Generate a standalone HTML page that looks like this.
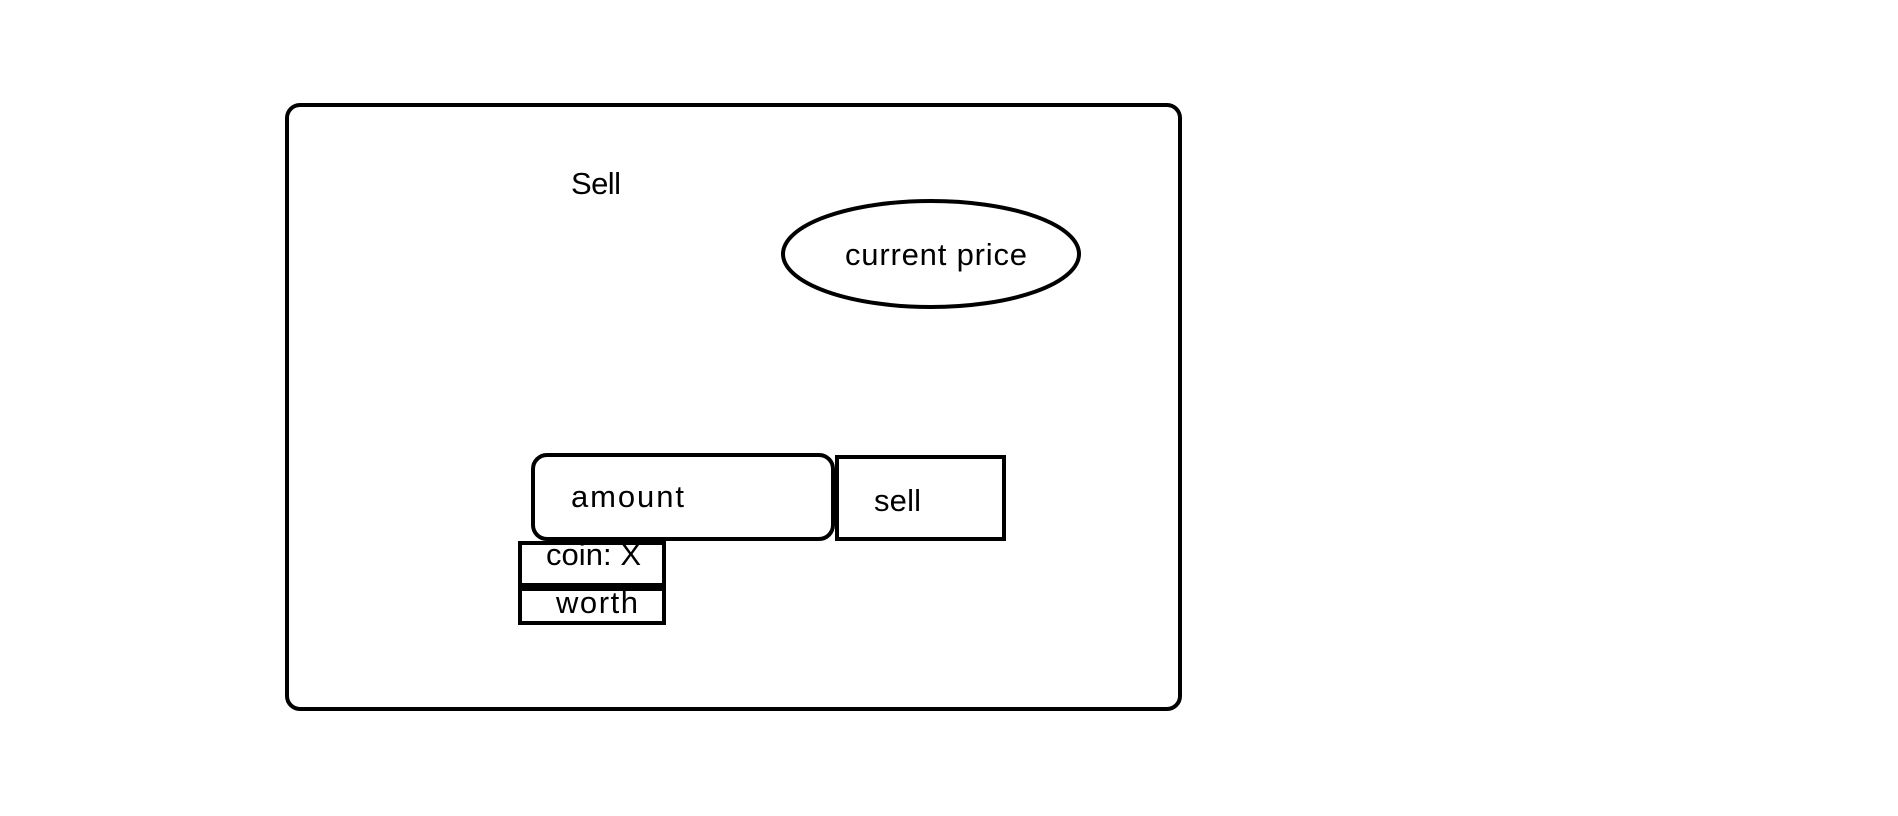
<!DOCTYPE html>
<html><head><meta charset="utf-8"><style>
html,body{margin:0;padding:0;background:#fff;width:1898px;height:816px;overflow:hidden}
svg{display:block}
text{font-family:"Liberation Sans",sans-serif;font-size:31px;fill:#000}
</style></head><body>
<svg width="1898" height="816" viewBox="0 0 1898 816">
<g fill="none" stroke="#000" stroke-width="4">
<rect x="287" y="105" width="893" height="604" rx="13"/>
<ellipse cx="931" cy="254" rx="148" ry="53"/>
<rect x="533" y="455" width="300" height="84" rx="14"/>
<rect x="837" y="457" width="167" height="82"/>
<rect x="520" y="543" width="144" height="42"/>
<rect x="520" y="589" width="144" height="34"/>
</g>
<rect x="520" y="584" width="144" height="6" fill="#000"/>
<text x="571" y="194" textLength="50">Sell</text>
<text x="845" y="265" textLength="182">current price</text>
<text x="571" y="507" textLength="113">amount</text>
<text x="874" y="511" textLength="47">sell</text>
<text x="546" y="565" textLength="95">coin: X</text>
<text x="556" y="613" textLength="82">worth</text>
</svg>
</body></html>
